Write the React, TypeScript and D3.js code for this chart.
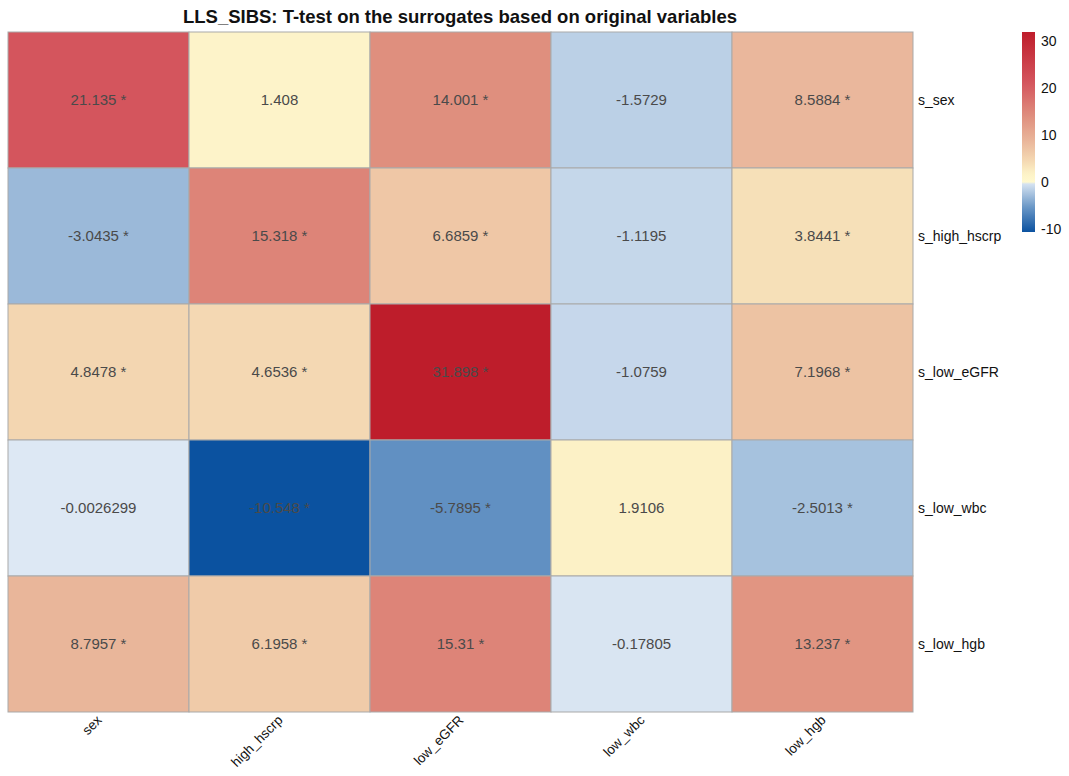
import React from "react";
import * as d3 from "d3";

const title = "LLS_SIBS: T-test on the surrogates based on original variables";
const colLabels = ["sex", "high_hscrp", "low_eGFR", "low_wbc", "low_hgb"];
const rowLabels = ["s_sex", "s_high_hscrp", "s_low_eGFR", "s_low_wbc", "s_low_hgb"];
const values: number[][] = [
  [21.135, 1.408, 14.001, -1.5729, 8.5884],
  [-3.0435, 15.318, 6.6859, -1.1195, 3.8441],
  [4.8478, 4.6536, 31.898, -1.0759, 7.1968],
  [-0.0026299, -10.548, -5.7895, 1.9106, -2.5013],
  [8.7957, 6.1958, 15.31, -0.17805, 13.237],
];
const labels: string[][] = [
  ["21.135 *", "1.408", "14.001 *", "-1.5729", "8.5884 *"],
  ["-3.0435 *", "15.318 *", "6.6859 *", "-1.1195", "3.8441 *"],
  ["4.8478 *", "4.6536 *", "31.898 *", "-1.0759", "7.1968 *"],
  ["-0.0026299", "-10.548 *", "-5.7895 *", "1.9106", "-2.5013 *"],
  ["8.7957 *", "6.1958 *", "15.31 *", "-0.17805", "13.237 *"],
];
const legendTicks = [-10, 0, 10, 20, 30];
const vMin = -10.548;
const vMax = 31.898;
const negDomain = [vMin, vMin / 2, 0];
const negStops = ["#0B52A0", "#6A97C6", "#DDE8F4"];
const posDomain = [0, 2, 5, 8.5, 14, 21, vMax];
const posStops = ["#FFF9CF", "#FCF1C6", "#F3D5B0", "#EAB89C", "#DF8F7E", "#D4565E", "#BE1D2B"];

const negScale = d3
  .scaleLinear<string>()
  .domain(negDomain)
  .range(negStops)
  .interpolate(d3.interpolateRgb);
const posScale = d3
  .scaleLinear<string>()
  .domain(posDomain)
  .range(posStops)
  .interpolate(d3.interpolateRgb);
const color = (v: number) => (v < 0 ? negScale(v) : posScale(v));

export default function App() {
  const W = 1069;
  const H = 776;
  const left = 8, right = 913, top = 32, bottom = 712;
  const x = d3.scaleBand<string>().domain(colLabels).range([left, right]);
  const y = d3.scaleBand<string>().domain(rowLabels).range([top, bottom]);
  const legY = d3.scaleLinear().domain([vMin, vMax]).range([232, 32]);
  const legX = 1022;
  const legW = 13;
  const gradStops = d3.range(0, 101).map((i) => {
    const v = vMin + ((vMax - vMin) * i) / 100;
    return { off: i, c: color(v) };
  });
  const zeroOff = ((0 - vMin) / (vMax - vMin)) * 100;
  const font = "Liberation Sans, Arial, Helvetica, sans-serif";
  return (
    <svg
      width={W}
      height={H}
      style={{ display: "block", position: "absolute", left: 0, top: 0 }}
      fontFamily={font}
    >
      <defs>
        <linearGradient id="lg" x1="0" y1="1" x2="0" y2="0">
          {gradStops.map((s, i) => (
            <stop key={i} offset={`${s.off}%`} stopColor={s.c} />
          ))}
          <stop offset={`${zeroOff}%`} stopColor={negScale(-0.0001)} />
          <stop offset={`${zeroOff}%`} stopColor={posScale(0)} />
        </linearGradient>
      </defs>
      <text x={460} y={23} textAnchor="middle" fontWeight="bold" fontSize={18.5} fill="#111">
        {title}
      </text>
      {values.map((row, i) =>
        row.map((v, j) => (
          <g key={`${i}-${j}`}>
            <rect
              x={x(colLabels[j])!}
              y={y(rowLabels[i])!}
              width={x.bandwidth()}
              height={y.bandwidth()}
              fill={color(v)}
              stroke="#A9A9A9"
              strokeWidth={1}
            />
            <text
              x={x(colLabels[j])! + x.bandwidth() / 2}
              y={y(rowLabels[i])! + y.bandwidth() / 2}
              dy="0.35em"
              textAnchor="middle"
              fontSize={15}
              fill="#4a4a4a"
            >
              {labels[i][j]}
            </text>
          </g>
        ))
      )}
      {rowLabels.map((r) => (
        <text key={r} x={right + 5} y={y(r)! + y.bandwidth() / 2} dy="0.35em" fontSize={14} fill="#111">
          {r}
        </text>
      ))}
      {colLabels.map((c) => (
        <text
          key={c}
          transform={`translate(${x(c)! + x.bandwidth() / 2 + 4},${bottom + 9}) rotate(-45)`}
          textAnchor="end"
          fontSize={13.5}
          fill="#111"
        >
          {c}
        </text>
      ))}
      <rect x={legX} y={32} width={legW} height={200} fill="url(#lg)" />
      {legendTicks.map((t) => (
        <text key={t} x={legX + legW + 6} y={legY(t)} dy="0.35em" fontSize={14} fill="#111">
          {t}
        </text>
      ))}
    </svg>
  );
}
